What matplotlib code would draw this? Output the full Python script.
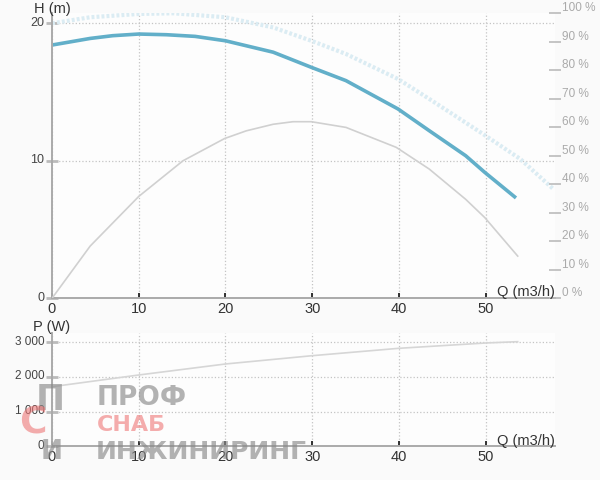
import matplotlib.pyplot as plt
from matplotlib.transforms import ScaledTranslation

plt.rcParams['font.family'] = ['Liberation Sans', 'DejaVu Sans']

# pump curve H(Q)
q_h = [0, 4.4, 7, 10, 13.2, 16.5, 20, 25.5, 29.9, 33.9, 39.9, 43.5, 47.7, 49.9, 53.5]
h = [18.42, 18.9, 19.1, 19.22, 19.17, 19.05, 18.73, 17.9, 16.8, 15.83, 13.77, 12.19, 10.37, 9.16, 7.3]
# max curve (light dotted)
q_max = [0, 4.4, 10, 14, 20, 25.5, 29.9, 33.9, 39.9, 43.5, 49.7, 54, 57.8]
h_max = [20.0, 20.44, 20.68, 20.73, 20.44, 19.7, 18.73, 17.77, 15.95, 14.5, 11.95, 10.13, 7.95]
# efficiency, %
q_eta = [0, 4.4, 10, 15.1, 19.9, 22.4, 25.5, 27.8, 29.9, 33.9, 39.7, 43.5, 47.7, 49.9, 53.7]
eta = [0, 18.3, 35.7, 48.2, 56, 58.7, 61, 61.9, 61.9, 59.9, 52.9, 45.3, 34.7, 28.3, 14.8]
# power, W
q_p = [0, 10, 20, 30, 40, 50, 53.7]
p = [1717, 2055, 2372, 2611, 2824, 2977, 3015]

q_ticks = [0, 10, 20, 30, 40, 50]
h_ticks = [0, 10, 20]
eta_ticks = list(range(0, 101, 10))
p_ticks = [0, 1000, 2000, 3000]
p_labels = ['0', '1 000', '2 000', '3 000']

W, H = 600, 481
fig = plt.figure(figsize=(6, 4.81), dpi=100, facecolor='#fafafa')
ax = fig.add_axes([52/W, 1-299.3/H, 503/W, 285.3/H], facecolor='#fdfdfd')
ax2 = ax.twinx()
axp = fig.add_axes([52/W, 1-447.3/H, 503/W, 113.3/H], facecolor='#fdfdfd')

up = ScaledTranslation(0, 3/100, fig.dpi_scale_trans)

for a in (ax, axp):
    a.set_xlim(0, 58)
    for s in ('top', 'right'):
        a.spines[s].set_visible(False)
    for s in ('left', 'bottom'):
        a.spines[s].set_color('#aaaaaa')
        a.spines[s].set_linewidth(1.4)
    a.set_xticks(q_ticks)
    a.tick_params(axis='x', direction='in', length=3.5, width=1.3, color='#222222',
                  labelsize=10.5, labelcolor='#333333', pad=2)
    a.tick_params(axis='y', direction='inout', length=9, width=2, color='#bbbbbb',
                  labelsize=9, labelcolor='#444444', pad=1)
    a.grid(True, ls=':', color='#c4c4c4', lw=0.9)
    a.set_axisbelow(True)

ax.set_ylim(0, 20.75)
ax.set_yticks(h_ticks)
for lab in ax.get_yticklabels():
    lab.set_transform(lab.get_transform() + up)

ax2.set_ylim(0, 100)
ax2.set_yticks(eta_ticks)
ax2.set_yticklabels([f'{v} %' for v in eta_ticks])
for s in ax2.spines.values():
    s.set_visible(False)
ax2.tick_params(axis='y', direction='inout', length=8, width=1.2, color='#bbbbbb',
                labelsize=8.5, labelcolor='#aaaaaa', pad=1)
for lab in ax2.get_yticklabels():
    lab.set_verticalalignment('bottom')

axp.set_ylim(0, 3265)
axp.set_yticks(p_ticks)
axp.set_yticklabels(p_labels)
axp.tick_params(axis='y', labelsize=8.5)
for lab in axp.get_yticklabels():
    lab.set_transform(lab.get_transform() + up)

ax.plot(q_max, h_max, color='#dbecf3', lw=3, ls=(0, (0.7, 0.5)))
ax2.plot(q_eta, eta, color='#d0d0d0', lw=1.2)
ax.plot(q_h, h, color='#62afc9', lw=2.6, solid_capstyle='butt')
axp.plot(q_p, p, color='#d6d6d6', lw=1.2)

fig.text(52/W, 1-9/H, 'H (m)', ha='center', va='center', fontsize=10.5, color='#333333')
fig.text(555/W, 1-292/H, 'Q (m3/h)', ha='right', va='center', fontsize=10.5, color='#333333')
fig.text(52/W, 1-327/H, 'P (W)', ha='center', va='center', fontsize=10.5, color='#333333')
fig.text(555/W, 1-441/H, 'Q (m3/h)', ha='right', va='center', fontsize=10.5, color='#333333')

# watermark
wm_gray, wm_pink = '#8a8a8a', '#ee7777'
wm = dict(fontweight='bold', family='DejaVu Sans', va='center', ha='left', zorder=10)
fig.text(97/W, 1-398/H, 'ПРОФ', fontsize=19, color=wm_gray, alpha=0.65, **wm)
fig.text(97/W, 1-425/H, 'СНАБ', fontsize=16, color=wm_pink, alpha=0.6, **wm)
fig.text(96/W, 1-452/H, 'ИНЖИНИРИНГ', fontsize=18, color=wm_gray, alpha=0.65, **wm)
wl = dict(fontweight='bold', family='DejaVu Sans', va='center', ha='center', zorder=10)
fig.text(50/W, 1-400/H, 'П', fontsize=25, color=wm_gray, alpha=0.65, **wl)
fig.text(33/W, 1-424/H, 'С', fontsize=27, color=wm_pink, alpha=0.6, **wl)
fig.text(52/W, 1-452/H, 'И', fontsize=19, color=wm_gray, alpha=0.65, **wl)

fig.savefig('out.png', dpi=100, facecolor=fig.get_facecolor())
